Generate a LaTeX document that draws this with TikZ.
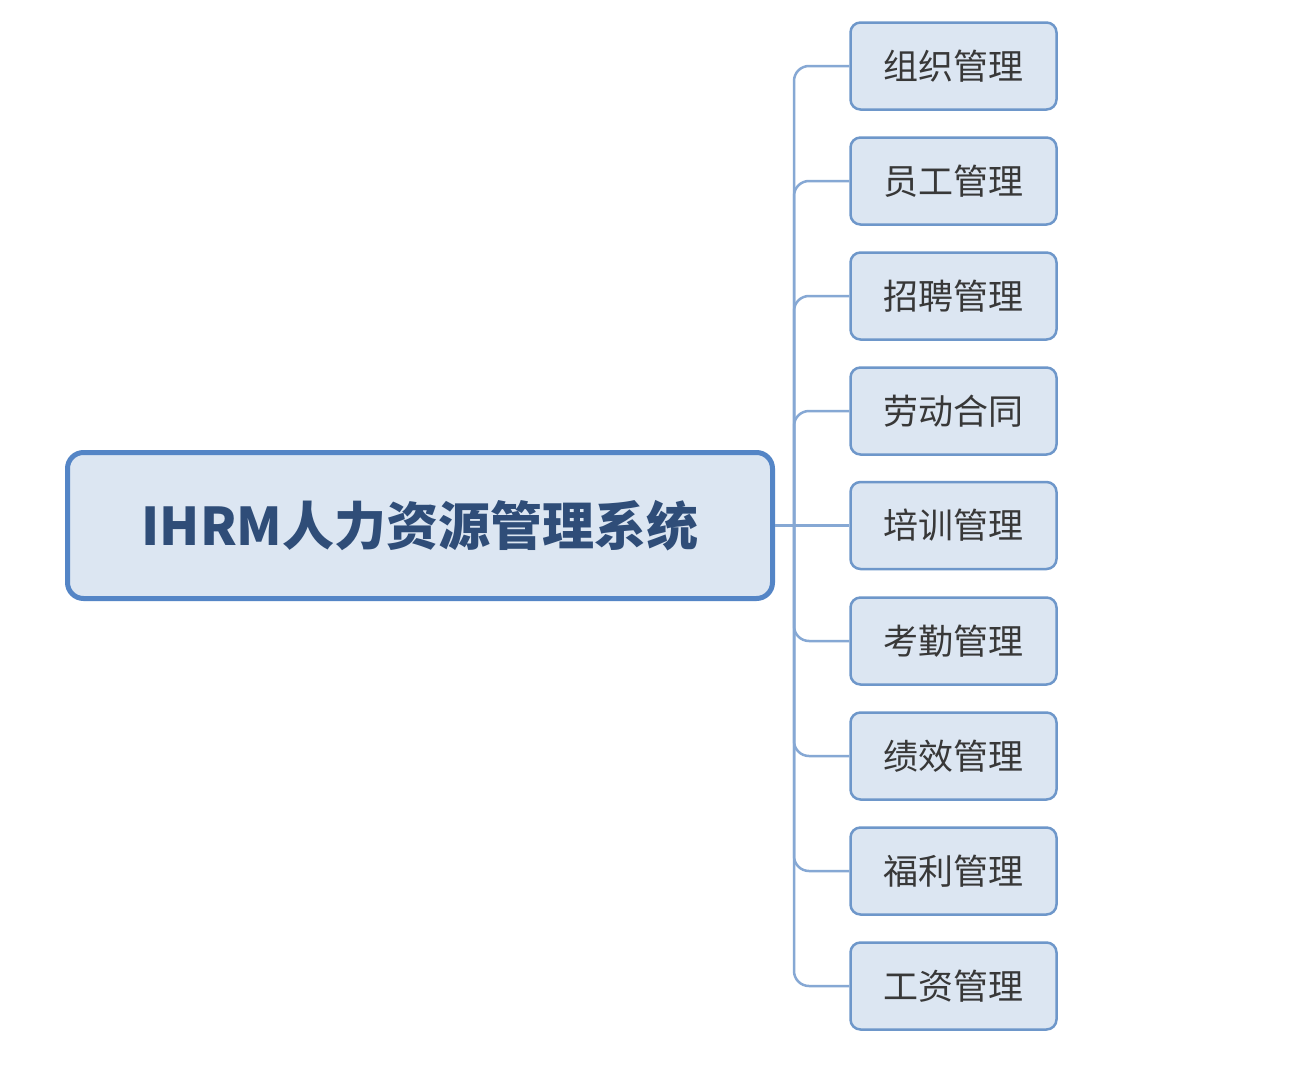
\documentclass[tikz,border=0pt]{standalone}
\usepackage{fontspec}
\newfontfamily\cjk{Noto Sans CJK SC}
\definecolor{mainfill}{HTML}{DCE6F2}
\definecolor{mainborder}{HTML}{5485C6}
\definecolor{maintext}{HTML}{2F4D78}
\definecolor{childborder}{HTML}{6E97CA}
\definecolor{childtext}{HTML}{383838}
\definecolor{linkcol}{HTML}{86A8D4}
\tikzset{
  mainbox/.style={draw=mainborder, line width=5pt, fill=mainfill, rounded corners=16pt,
    minimum width=705pt, minimum height=146pt, inner sep=0pt,
    font=\cjk\bfseries\fontsize{52}{62}\selectfont, text=maintext},
  childbox/.style={draw=childborder, line width=2.5pt, fill=mainfill, rounded corners=10pt,
    minimum width=206pt, minimum height=87pt, inner sep=0pt,
    font=\cjk\fontsize{35}{42}\selectfont, text=childtext},
  link/.style={draw=linkcol, line width=2.5pt, rounded corners=15pt}
}
\begin{document}
\begin{tikzpicture}[x=1pt,y=-1pt]
\useasboundingbox[fill=white] (0,0) rectangle (1294,1076);
\node[mainbox] (main) at (420,525.5) {IHRM人力资源管理系统};
\node[childbox] (c1) at (953.5,66) {组织管理};
\node[childbox] (c2) at (953.5,181) {员工管理};
\node[childbox] (c3) at (953.5,296) {招聘管理};
\node[childbox] (c4) at (953.5,411) {劳动合同};
\node[childbox] (c5) at (953.5,525.5) {培训管理};
\node[childbox] (c6) at (953.5,641) {考勤管理};
\node[childbox] (c7) at (953.5,756) {绩效管理};
\node[childbox] (c8) at (953.5,871) {福利管理};
\node[childbox] (c9) at (953.5,986) {工资管理};
\coordinate (j) at (794,525.5);
\foreach \c in {c1,c2,c3,c4,c6,c7,c8,c9}{
  \path[link] (j) |- (\c.west);
}
\path[link] (main.east) -- (c5.west);
\end{tikzpicture}
\end{document}
